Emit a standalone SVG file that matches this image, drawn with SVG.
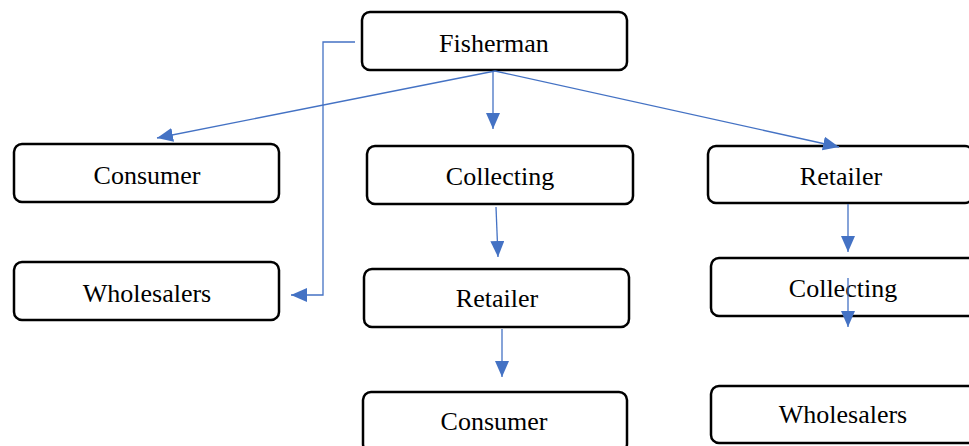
<svg xmlns="http://www.w3.org/2000/svg" width="969" height="446" viewBox="0 0 969 446">
<defs>
<style>
.box{fill:#fff;stroke:#000;stroke-width:2.5}
.lbl{font-family:"Liberation Serif","Times New Roman",serif;font-size:26px;fill:#000;text-anchor:middle}
.edge{fill:none;stroke:#4472C4;stroke-width:1.3}
</style>
<marker id="ah" markerUnits="userSpaceOnUse" markerWidth="16" markerHeight="14" viewBox="0 0 16 14" refX="16" refY="7" orient="auto">
<path d="M0,0 L16,7 L0,14 z" fill="#4472C4"/>
</marker>
</defs>
<rect width="969" height="446" fill="#fff"/>
<g id="n-fisherman"><rect class="box" x="362" y="12" width="265" height="58" rx="8"/><text class="lbl" x="494" y="52">Fisherman</text></g>
<g id="n-consumer1"><rect class="box" x="14" y="144" width="265" height="58" rx="8"/><text class="lbl" x="147" y="184">Consumer</text></g>
<g id="n-wholesalers1"><rect class="box" x="14" y="262" width="265" height="58" rx="8"/><text class="lbl" x="147" y="302">Wholesalers</text></g>
<g id="n-collecting1"><rect class="box" x="367" y="146" width="266" height="58" rx="8"/><text class="lbl" x="500" y="185">Collecting</text></g>
<g id="n-retailer1"><rect class="box" x="364" y="269" width="265" height="58" rx="8"/><text class="lbl" x="497" y="307">Retailer</text></g>
<g id="n-consumer2"><rect class="box" x="363" y="392" width="264" height="60" rx="8"/><text class="lbl" x="494" y="430">Consumer</text></g>
<g id="n-retailer2"><rect class="box" x="708" y="146" width="265" height="57" rx="8"/><text class="lbl" x="841" y="185">Retailer</text></g>
<g id="n-collecting2"><rect class="box" x="711" y="258" width="265" height="58" rx="8"/><text class="lbl" x="843" y="297">Collecting</text></g>
<g id="n-wholesalers2"><rect class="box" x="711" y="386" width="265" height="57" rx="8"/><text class="lbl" x="843" y="423">Wholesalers</text></g>
<g id="connectors">
<path class="edge" d="M495,71 L157,138" marker-end="url(#ah)"/>
<path class="edge" d="M493,72 L493,129" marker-end="url(#ah)"/>
<path class="edge" d="M495,71 L839,147" marker-end="url(#ah)"/>
<path class="edge" d="M355,42 L323,42 L323,295 L291,295" marker-end="url(#ah)"/>
<path class="edge" d="M496,207 L498,257" marker-end="url(#ah)"/>
<path class="edge" d="M502,329 L502,377" marker-end="url(#ah)"/>
<path class="edge" d="M848,204 L848,252" marker-end="url(#ah)"/>
<path class="edge" d="M848,278 L848,327" marker-end="url(#ah)"/>
</g>
</svg>
